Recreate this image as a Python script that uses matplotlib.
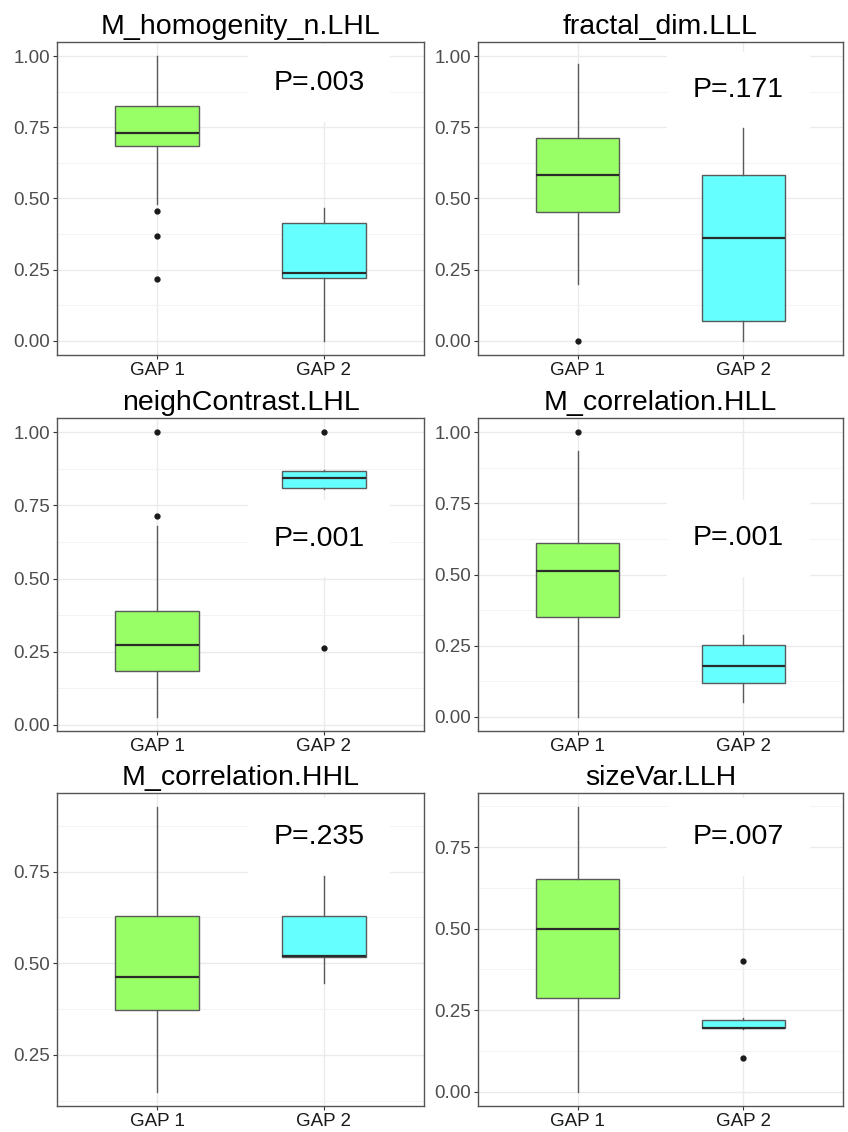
import matplotlib
matplotlib.use("Agg")
import matplotlib.pyplot as plt
import numpy as np

plt.rcParams["font.family"] = ["Liberation Sans", "DejaVu Sans"]

groups = ["GAP 1", "GAP 2"]
panel_titles = ["M_homogenity_n.LHL", "fractal_dim.LLL", "neighContrast.LHL",
                "M_correlation.HLL", "M_correlation.HHL", "sizeVar.LLH"]
p_labels = ["P=.003", "P=.171", "P=.001", "P=.001", "P=.235", "P=.007"]
p_label_y = [0.906, 0.88, 0.636, 0.627, 0.844, 0.781]

# (lower whisker, Q1, median, Q3, upper whisker)
gap1_box = [
    (0.48, 0.683, 0.731, 0.824, 1.00),
    (0.20, 0.452, 0.583, 0.713, 0.973),
    (0.028, 0.183, 0.274, 0.390, 0.681),
    (0.00, 0.352, 0.511, 0.609, 0.935),
    (0.15, 0.372, 0.463, 0.629, 0.925),
    (0.00, 0.288, 0.500, 0.652, 0.872),
]
gap2_box = [
    (0.00, 0.222, 0.239, 0.415, 0.468),
    (0.00, 0.069, 0.361, 0.581, 0.749),
    (0.806, 0.809, 0.843, 0.869, 0.872),
    (0.051, 0.117, 0.180, 0.251, 0.287),
    (0.445, 0.517, 0.519, 0.629, 0.738),
    (0.193, 0.195, 0.196, 0.221, 0.227),
]
gap1_outliers = [[0.456, 0.368, 0.217], [0.0], [1.0, 0.715], [1.0], [], []]
gap2_outliers = [[], [], [1.0, 0.264], [], [], [0.402, 0.104]]

y_ticks = [
    [0, 0.25, 0.5, 0.75, 1.0],
    [0, 0.25, 0.5, 0.75, 1.0],
    [0, 0.25, 0.5, 0.75, 1.0],
    [0, 0.25, 0.5, 0.75, 1.0],
    [0.25, 0.5, 0.75],
    [0, 0.25, 0.5, 0.75],
]
y_limits = [(-0.05, 1.05), (-0.05, 1.05), (-0.021, 1.049),
            (-0.05, 1.05), (0.111, 0.964), (-0.044, 0.916)]

fill_colors = ["#99FF66", "#66FFFF"]

W, H = 848, 1132
fig = plt.figure(figsize=(W / 100, H / 100), dpi=100)

# panel rectangles in pixels: (left, right, top, bottom)
cols = [(57, 424), (478, 843)]
rows = [(42, 355), (418, 731), (793, 1106)]


def to_stats(box, fliers, label):
    lo, q1, med, q3, hi = box
    return dict(whislo=lo, q1=q1, med=med, q3=q3, whishi=hi, fliers=fliers, label=label)


for i in range(6):
    left, right = cols[i % 2]
    top, bottom = rows[i // 2]
    ax = fig.add_axes([left / W, 1 - bottom / H, (right - left) / W, (bottom - top) / H])

    stats = [to_stats(gap1_box[i], gap1_outliers[i], groups[0]),
             to_stats(gap2_box[i], gap2_outliers[i], groups[1])]
    bp = ax.bxp(stats, positions=[1, 2], widths=0.5, showcaps=False, patch_artist=True,
                boxprops=dict(edgecolor="#5a5a5a", linewidth=1.0),
                whiskerprops=dict(color="#5a5a5a", linewidth=1.0),
                medianprops=dict(color="#2b2b2b", linewidth=1.6),
                flierprops=dict(marker="o", markersize=3.5, markerfacecolor="#1a1a1a",
                                markeredgecolor="#1a1a1a"))
    for patch, c in zip(bp["boxes"], fill_colors):
        patch.set_facecolor(c)
    for art in bp["boxes"] + bp["whiskers"] + bp["medians"] + bp["fliers"]:
        art.set_zorder(2)

    ticks = y_ticks[i]
    ax.set_yticks(ticks)
    ax.set_yticklabels([f"{t:.2f}" for t in ticks])
    minor = [t + 0.125 for t in ticks[:-1]] + [ticks[0] - 0.125, ticks[-1] + 0.125]
    ax.set_yticks(minor, minor=True)
    ax.set_xticks([1, 2])
    ax.set_xticklabels(groups)

    # limits set after the ticks so they stick
    ax.set_ylim(*y_limits[i])
    ax.set_xlim(0.4, 2.6)

    ax.set_axisbelow(True)
    ax.grid(True, which="major", color="#EBEBEB", linewidth=1.0)
    ax.grid(True, which="minor", axis="y", color="#F3F3F3", linewidth=0.7)
    ax.tick_params(axis="y", which="major", labelsize=13.5, labelcolor="#4D4D4D",
                   color="#333333", length=3, width=0.8, pad=2)
    ax.tick_params(axis="x", which="major", labelsize=13.5, labelcolor="#1a1a1a",
                   color="#333333", length=3, width=0.8, pad=2)
    ax.tick_params(which="minor", length=0)
    for sp in ax.spines.values():
        sp.set_color("#555555")
        sp.set_linewidth(1.0)

    ax.set_title(panel_titles[i], fontsize=20.5, pad=6, color="#000000")
    ax.text(1.97, p_label_y[i], p_labels[i], ha="center", va="center", fontsize=20.5,
            zorder=1.5, bbox=dict(boxstyle="square,pad=0.9", facecolor="white",
                                  edgecolor="none"))

fig.savefig("out.png", dpi=100)
